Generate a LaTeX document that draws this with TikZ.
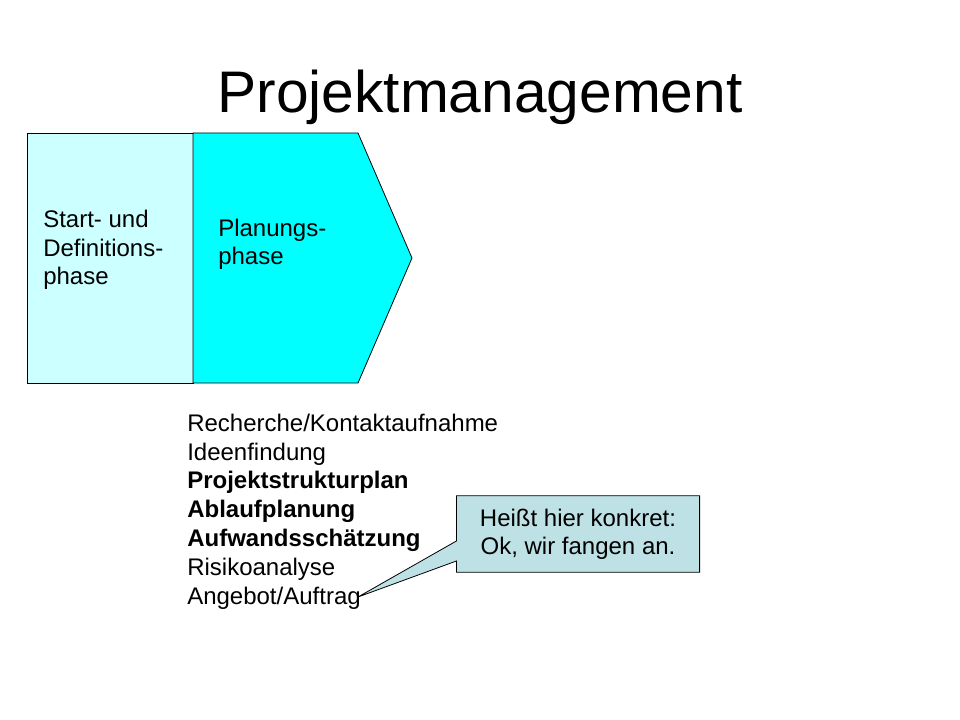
\documentclass[tikz,border=0pt]{standalone}
\usepackage{fontspec}
\setmainfont{Liberation Sans}
\usetikzlibrary{backgrounds}
\definecolor{hellcyan}{RGB}{204,255,255}
\definecolor{vollcyan}{RGB}{0,255,255}
\definecolor{hinweisblau}{RGB}{190,225,230}
\tikzset{
  phase/.style={draw, line width=0.6pt},
  phasetext/.style={inner sep=0pt, align=left, font=\fontsize{18}{21.6}\selectfont},
  hintbox/.style={inner sep=0pt, align=center, minimum width=182pt, minimum height=57pt,
    font=\fontsize{18}{21}\selectfont},
}

\begin{document}
\begin{tikzpicture}[x=0.75pt, y=-0.75pt]
        \useasboundingbox (0,0) rectangle (960,720);

        \node (title) [anchor=base] at (480,113) {\fontsize{44}{52}\selectfont Projektmanagement};

        \draw[phase, fill=hellcyan] (27,133) rectangle (193,383);
        \draw[phase, fill=vollcyan] (193,133) -- (358,133) -- (412,258) -- (358,383) -- (193,383) -- cycle;

        % base = baseline of the last line
        \node (start) [phasetext, anchor=base west] at (43,285) {Start- und\\Definitions-\\phase};
        \node (planung) [phasetext, anchor=base west] at (218,265) {Planungs-\\phase};

        \node (tasks) [phasetext, anchor=base west] at (187,604)
          {Recherche/Kontaktaufnahme\\Ideenfindung\\\textbf{Projektstrukturplan}\\
           \textbf{Ablaufplanung}\\\textbf{Aufwandssch\"atzung}\\Risikoanalyse\\Angebot/Auftrag};

        \node (hint) [hintbox] at (578,534) {Heißt hier konkret:\\Ok, wir fangen an.};
        \coordinate (tip) at (358,597);
        \begin{scope}[on background layer]
          \draw[phase, fill=hinweisblau] (hint.north west) -- (hint.north east) -- (hint.south east)
            -- (hint.south west) -- ([yshift=-20.25pt]hint.west) -- (tip)
            -- ([yshift=-5.25pt]hint.west) -- cycle;
        \end{scope}
      \end{tikzpicture}
\end{document}
